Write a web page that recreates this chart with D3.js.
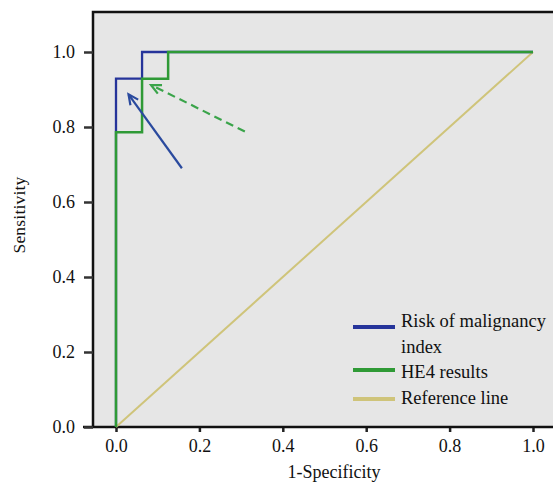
<html>
<head>
<script src="https://d3js.org/d3.v7.min.js"></script>
<style>
  body { margin: 0; background: #fff; }
  text { font-family: "Liberation Serif", "Times New Roman", serif; fill: #111; }
</style>
</head>
<body>
<svg width="553" height="483"></svg>
<script>
// tick labels
var ticks = [0.0, 0.2, 0.4, 0.6, 0.8, 1.0];

// ROC points (1-specificity, sensitivity)
var rmiX = [0, 0, 0.0625, 0.0625, 1.0];
var rmiY = [0, 0.929, 0.929, 1.0, 1.0];
var he4X = [0, 0, 0.0625, 0.0625, 0.125, 0.125, 1.0];
var he4Y = [0, 0.786, 0.786, 0.929, 0.929, 1.0, 1.0];
var refX = [0, 1];
var refY = [0, 1];

// annotation arrows [tailX, tailY, headX, headY]
var arrowRmi = [0.158, 0.690, 0.030, 0.887];
var arrowHe4 = [0.309, 0.788, 0.084, 0.912];

var legendNames = ["Risk of malignancy", "HE4 results", "Reference line"];
var colors = ["#26349a", "#2f9a36", "#cfc47a"];

var svg = d3.select("svg");
var xs = d3.scaleLinear().domain([0, 1]).range([116, 533]);
var ys = d3.scaleLinear().domain([0, 1]).range([427, 52]);

// plot background + frame
svg.append("rect").attr("x", 93).attr("y", 12).attr("width", 470).attr("height", 415)
  .attr("fill", "#e6e6e6");
svg.append("path").attr("d", "M93,427 L93,12 L553,12")
  .attr("fill", "none").attr("stroke", "#111").attr("stroke-width", 2.5);

// x axis
var gx = svg.append("g").attr("transform", "translate(0,427)")
  .call(d3.axisBottom(xs).tickValues(ticks).tickSize(5).tickSizeOuter(0).tickFormat(d3.format(".1f")));
gx.select(".domain").remove();
gx.selectAll(".tick line").attr("stroke", "#222").attr("stroke-width", 2.5);
gx.selectAll(".tick text").attr("font-size", 18).attr("y", 9).attr("dy", "0.9em")
  .style("font-family", "Liberation Serif").attr("fill", "#111");
svg.append("line").attr("x1", 83).attr("x2", 553).attr("y1", 427).attr("y2", 427)
  .attr("stroke", "#111").attr("stroke-width", 2.5);

// y axis
var gy = svg.append("g").attr("transform", "translate(93,0)")
  .call(d3.axisLeft(ys).tickValues(ticks).tickSize(9).tickSizeOuter(0).tickFormat(d3.format(".1f")));
gy.select(".domain").remove();
gy.selectAll(".tick line").attr("stroke", "#333").attr("stroke-width", 2.5);
gy.selectAll(".tick text").attr("font-size", 18).attr("x", -18)
  .style("font-family", "Liberation Serif").attr("fill", "#111");

// axis titles
svg.append("text").attr("x", 334).attr("y", 478).attr("text-anchor", "middle")
  .attr("font-size", 18).text("1-Specificity");
svg.append("text").attr("transform", "translate(25,215) rotate(-90)").attr("text-anchor", "middle")
  .attr("font-size", 17.5).attr("letter-spacing", 0.2).text("Sensitivity");

// lines
function path(xv, yv) {
  return d3.line().x(function(d) { return xs(d); }).y(function(d, i) { return ys(yv[i]); })(xv);
}
svg.append("path").attr("d", path(refX, refY)).attr("fill", "none")
  .attr("stroke", colors[2]).attr("stroke-width", 2);
svg.append("path").attr("d", path(rmiX, rmiY)).attr("fill", "none")
  .attr("stroke", colors[0]).attr("stroke-width", 2.3);
svg.append("path").attr("d", path(he4X, he4Y)).attr("fill", "none")
  .attr("stroke", colors[1]).attr("stroke-width", 2.5);

// arrows
function arrow(a, color, dash) {
  var x1 = xs(a[0]), y1 = ys(a[1]), x2 = xs(a[2]), y2 = ys(a[3]);
  var ang = Math.atan2(y2 - y1, x2 - x1), L = 11, w = 0.45;
  var g = svg.append("g").attr("stroke", color).attr("stroke-width", 2.2).attr("fill", "none");
  g.append("line").attr("x1", x1).attr("y1", y1).attr("x2", x2).attr("y2", y2)
    .attr("stroke-dasharray", dash);
  g.append("path").attr("d",
    "M" + (x2 - L * Math.cos(ang - w)) + "," + (y2 - L * Math.sin(ang - w)) +
    " L" + x2 + "," + y2 +
    " L" + (x2 - L * Math.cos(ang + w)) + "," + (y2 - L * Math.sin(ang + w)));
}
arrow(arrowRmi, "#2a4a9e", null);
arrow(arrowHe4, "#3aa44a", "8,5");

// legend
var lg = svg.append("g");
var rows = [[327, 321, legendNames[0]], [370, 372, legendNames[1]], [399, 398, legendNames[2]]];
rows.forEach(function(r, i) {
  lg.append("line").attr("x1", 353).attr("x2", 395).attr("y1", r[0]).attr("y2", r[0])
    .attr("stroke", colors[i]).attr("stroke-width", 4);
  lg.append("text").attr("x", 401).attr("y", r[1]).attr("dy", "0.35em")
    .attr("font-size", 18.5).text(r[2]);
});
lg.append("text").attr("x", 401).attr("y", 347).attr("dy", "0.35em")
  .attr("font-size", 18.5).text("index");
</script>
</body>
</html>
